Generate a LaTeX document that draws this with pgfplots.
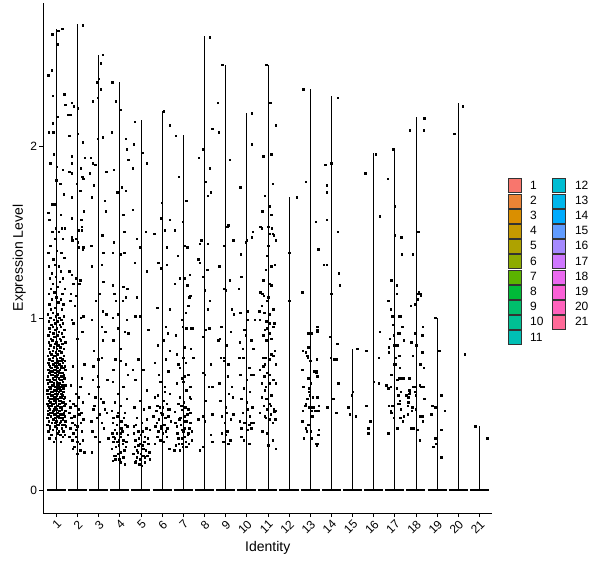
\documentclass[border=0pt]{standalone}
\usepackage{fontspec}
\setmainfont{Liberation Sans}
\usepackage{pgfplots}
\pgfplotsset{compat=1.18}

\definecolor{c1}{HTML}{F8766D}
\definecolor{c2}{HTML}{EB8335}
\definecolor{c3}{HTML}{DA8F00}
\definecolor{c4}{HTML}{C59900}
\definecolor{c5}{HTML}{AEA200}
\definecolor{c6}{HTML}{8DAB00}
\definecolor{c7}{HTML}{5BB300}
\definecolor{c8}{HTML}{00BA38}
\definecolor{c9}{HTML}{00BE6C}
\definecolor{c10}{HTML}{00C094}
\definecolor{c11}{HTML}{00BFB4}
\definecolor{c12}{HTML}{00BDD2}
\definecolor{c13}{HTML}{00B6EB}
\definecolor{c14}{HTML}{00ABFD}
\definecolor{c15}{HTML}{619CFF}
\definecolor{c16}{HTML}{A58AFF}
\definecolor{c17}{HTML}{CF78FF}
\definecolor{c18}{HTML}{EB69F0}
\definecolor{c19}{HTML}{FB61D7}
\definecolor{c20}{HTML}{FF62BC}
\definecolor{c21}{HTML}{FF6A98}

\begin{document}
\begin{tikzpicture}
\begin{axis}[
  at={(0,0)}, anchor=south west,
  scale only axis, width=449bp, height=510bp,
  xmin=0.386, xmax=21.61, ymin=-0.134, ymax=2.83,
  axis lines=left, axis line style={-, black, line width=0.6bp},
  xtick={1,...,21}, ytick={0,1,2},
  tick align=outside, major tick length=4bp,
  tick style={black, line width=0.6bp},
  /pgf/number format/assume math mode=true,
  tick label style={font=\fontsize{12bp}{14bp}\selectfont},
  xticklabel style={rotate=45, anchor=north east, inner sep=1.5bp},
  yticklabel style={inner sep=2bp},
  xlabel={Identity}, ylabel={Expression Level},
  label style={font=\fontsize{14bp}{16bp}\selectfont},
  xlabel style={at={(axis description cs:0.5,-0.0686)}, anchor=center},
  ylabel style={at={(axis description cs:-0.0535,0.5)}, anchor=center},
  unbounded coords=jump,
  legend columns=2,
  legend cell align=left,
  legend image code/.code={\draw[#1] (0bp,-7bp) rectangle (13bp,7bp);},
  legend style={at={(1,0.5)}, anchor=west, xshift=15bp, yshift=-3.7bp,
    draw=none, fill=none, inner sep=0pt,
    font=\fontsize{12bp}{14bp}\selectfont,
    row sep=0.6bp, column sep=7bp},
  every axis plot/.append style={forget plot},
  dots/.style={only marks, mark=square*, mark size=0.75bp, black}
]

% violins: a line up to the largest value, a bar at zero
\addplot[black, line width=0.6bp] coordinates {
 (1,0)(1,2.68)(1,nan) (2,0)(2,2.71)(2,nan) (3,0)(3,2.53)(3,nan)
 (4,0)(4,2.37)(4,nan) (5,0)(5,2.15)(5,nan) (6,0)(6,2.20)(6,nan)
 (7,0)(7,2.06)(7,nan) (8,0)(8,2.64)(8,nan) (9,0)(9,2.47)(9,nan)
 (10,0)(10,2.19)(10,nan) (11,0)(11,2.47)(11,nan) (12,0)(12,1.70)(12,nan)
 (13,0)(13,2.33)(13,nan) (14,0)(14,2.29)(14,nan) (15,0)(15,0.82)(15,nan)
 (16,0)(16,1.96)(16,nan) (17,0)(17,1.99)(17,nan) (18,0)(18,2.17)(18,nan)
 (19,0)(19,1.00)(19,nan) (20,0)(20,2.25)(20,nan) (21,0)(21,0.37)
};
\addplot[black, line width=2bp] coordinates {
 (0.55,0)(1.45,0)(1,nan) (1.55,0)(2.45,0)(2,nan) (2.55,0)(3.45,0)(3,nan)
 (3.55,0)(4.45,0)(4,nan) (4.55,0)(5.45,0)(5,nan) (5.55,0)(6.45,0)(6,nan)
 (6.55,0)(7.45,0)(7,nan) (7.55,0)(8.45,0)(8,nan) (8.55,0)(9.45,0)(9,nan)
 (9.55,0)(10.45,0)(10,nan) (10.55,0)(11.45,0)(11,nan) (11.55,0)(12.45,0)(12,nan)
 (12.55,0)(13.45,0)(13,nan) (13.55,0)(14.45,0)(14,nan) (14.55,0)(15.45,0)(15,nan)
 (15.55,0)(16.45,0)(16,nan) (16.55,0)(17.45,0)(17,nan) (17.55,0)(18.45,0)(18,nan)
 (18.55,0)(19.45,0)(19,nan) (19.55,0)(20.45,0)(20,nan) (20.55,0)(21.45,0)
};

% cells, identity 1
\addplot[dots] coordinates {
 (0.88,.28)(1.21,.28)(0.66,.30)(0.97,.30)(1.30,.31)
 (0.75,.32)(1.05,.33)(1.18,.32)(1.40,.32)(0.61,.34)(0.83,.35)(1.12,.34)(1.33,.34)
 (0.70,.36)(0.92,.37)(1.01,.36)(1.25,.36)(1.44,.37)(0.58,.38)(0.79,.39)(1.08,.38)(1.17,.39)(1.37,.38)
 (0.64,.40)(0.87,.41)(0.99,.40)(1.22,.40)(1.31,.41)(1.42,.40)(0.56,.42)(0.73,.43)(0.95,.42)(1.10,.43)(1.28,.42)(1.39,.43)
 (0.62,.44)(0.81,.45)(0.90,.44)(1.04,.45)(1.19,.44)(1.35,.45)(0.59,.46)(0.69,.47)(0.85,.46)(1.00,.47)(1.14,.46)(1.26,.47)(1.43,.46)
 (0.65,.48)(0.77,.49)(0.93,.48)(1.07,.49)(1.23,.48)(1.38,.49)(0.57,.50)(0.72,.51)(0.86,.50)(0.98,.51)(1.13,.50)(1.29,.51)(1.41,.50)
 (0.63,.52)(0.80,.53)(0.91,.52)(1.05,.53)(1.20,.52)(1.34,.53)(0.60,.54)(0.74,.55)(0.89,.54)(1.02,.55)(1.16,.54)(1.27,.55)(1.40,.54)
 (0.67,.56)(0.84,.57)(0.96,.56)(1.11,.57)(1.24,.56)(1.36,.57)(0.58,.58)(0.71,.59)(0.88,.58)(1.03,.59)(1.19,.58)(1.32,.59)
 (0.64,.60)(0.79,.61)(0.94,.60)(1.09,.61)(1.22,.60)(1.42,.61)(0.60,.62)(0.76,.63)(0.87,.62)(1.01,.63)(1.15,.62)(1.30,.63)
 (0.68,.64)(0.83,.65)(0.97,.64)(1.12,.65)(1.26,.64)(1.38,.65)(0.59,.66)(0.73,.67)(0.92,.66)(1.06,.67)(1.21,.66)(1.35,.67)
 (0.66,.68)(0.81,.69)(0.95,.68)(1.10,.69)(1.28,.68)(0.62,.70)(0.77,.71)(0.90,.70)(1.04,.71)(1.17,.70)(1.33,.71)(1.43,.70)
 (0.70,.72)(0.86,.73)(0.99,.72)(1.14,.73)(1.24,.72)(0.61,.74)(0.78,.75)(0.93,.74)(1.08,.75)(1.31,.74)(1.40,.75)
 (0.67,.76)(0.84,.77)(1.02,.76)(1.19,.77)(1.27,.76)(0.60,.78)(0.75,.79)(0.91,.78)(1.06,.79)(1.36,.78)
 (0.69,.80)(0.82,.81)(0.97,.80)(1.13,.81)(1.23,.80)(0.63,.82)(0.88,.83)(1.03,.82)(1.18,.83)(1.34,.82)
 (0.72,.84)(0.94,.85)(1.09,.84)(1.29,.85)(0.65,.86)(0.80,.87)(1.00,.86)(1.21,.87)(1.41,.86)
 (0.74,.88)(0.90,.89)(1.15,.88)(1.32,.89)(0.62,.90)(0.85,.91)(1.05,.90)(1.25,.91)
 (0.70,.92)(0.96,.93)(1.12,.92)(1.38,.93)(0.66,.94)(0.83,.95)(1.01,.94)(1.20,.95)
 (0.76,.96)(0.92,.97)(1.16,.96)(1.30,.97)(0.64,.98)(0.87,.99)(1.07,.98)(1.23,.99)
 (0.71,1.00)(0.98,1.01)(1.14,1.00)(1.35,1.01)(0.60,1.02)(0.82,1.03)(1.04,1.02)
 (0.73,1.05)(0.95,1.06)(1.26,1.05)(0.67,1.08)(1.10,1.09)(1.33,1.08)(0.78,1.11)(0.99,1.12)(1.20,1.11)
 (0.63,1.14)(0.89,1.15)(1.29,1.14)(0.74,1.17)(1.06,1.18)(1.39,1.17)(0.84,1.20)(1.15,1.21)
 (0.68,1.23)(0.97,1.24)(1.31,1.23)(0.79,1.26)(1.22,1.27)(0.64,1.30)(0.93,1.31)(1.12,1.30)
 (0.86,1.34)(1.37,1.35)(0.62,1.38)(1.03,1.39)(1.24,1.38)
 (0.68,.37)(0.95,.39)(1.27,.38)(0.82,.41)(1.14,.42)(1.03,.43)(0.71,.45)(1.32,.44)(0.88,.47)(1.18,.48)
 (0.61,.49)(1.02,.49)(0.79,.50)(1.36,.51)(0.94,.53)(1.11,.52)(0.69,.53)(1.25,.54)(0.83,.55)(1.06,.56)
 (0.56,.56)(1.31,.57)(0.76,.57)(0.99,.58)(1.14,.59)(0.66,.60)(0.86,.61)(1.27,.61)(1.04,.62)(0.71,.63)
 (0.90,.64)(1.19,.64)(0.57,.64)(1.33,.66)(0.80,.67)(1.00,.66)(1.14,.68)(0.70,.69)(0.87,.70)(1.21,.71)
 (0.95,.72)(1.39,.72)(0.65,.73)(1.05,.74)(0.82,.75)(1.23,.75)
 (0.72,1.42)(0.95,1.46)(1.31,1.46)(0.80,1.50)(1.12,1.50)(0.98,1.52)(1.25,1.52)(1.40,1.52)(0.66,1.57)(0.61,1.61)
 (1.20,1.60)(0.78,1.66)(0.91,1.66)(1.35,1.72)(1.18,1.78)(0.99,1.80)(1.30,1.86)(1.02,1.88)(0.71,1.90)(0.88,1.95)
 (0.65,2.08)(0.86,2.08)(0.82,2.13)(1.04,2.17)(1.41,2.24)(0.84,2.29)(1.37,2.30)(0.62,2.41)(0.78,2.44)(1.05,2.59)
 (0.81,2.65)(1.09,2.67)(1.27,2.68)
};
% identity 2
\addplot[dots] coordinates {
 (2.24,2.70)(1.73,2.25)(1.82,2.23)(2.01,2.22)(1.54,2.18)(1.65,2.18)(1.60,2.06)(2.01,2.07)(2.24,2.02)(1.73,1.94)
 (1.73,1.90)(2.35,1.93)(1.60,1.85)(1.74,1.84)(2.15,1.87)(2.23,1.82)(2.27,1.81)(1.96,1.78)(1.74,1.70)(2.12,1.74)
 (2.29,1.62)(1.74,1.58)(2.17,1.57)(2.20,1.53)(2.20,1.51)(2.06,1.51)(2.01,1.44)(1.74,1.47)(1.76,1.45)(1.91,1.46)
 (2.06,1.41)(2.24,1.40)(2.27,1.41)
 (1.74,1.25)(1.61,1.27)(1.80,1.20)(1.93,1.23)(2.12,1.22)(2.09,1.20)(1.69,1.14)(1.91,1.13)(1.65,1.10)(1.87,1.07)
 (1.74,0.99)(1.80,0.97)(2.28,1.01)(2.15,1.00)(2.23,0.92)(1.99,0.88)(1.77,0.72)(2.32,0.73)(2.20,0.65)(1.69,0.61)
 (2.12,0.60)(1.93,0.56)(1.80,0.50)(2.04,0.54)(1.65,0.48)(2.25,0.51)(1.61,0.45)(1.85,0.43)(2.09,0.44)(2.15,0.39)
 (1.76,0.39)(1.93,0.35)(2.20,0.34)(1.61,0.31)(1.99,0.28)(1.85,0.25)(1.77,0.24)(2.12,0.23)(1.99,0.21)(2.32,0.22)
 (1.70,0.42)(1.88,0.38)(2.05,0.47)(1.66,0.36)(2.26,0.29)(1.95,0.31)(2.18,0.45)(1.80,0.33)(2.10,0.27)(1.63,0.52)
 (1.90,0.49)(2.28,0.41)(1.75,0.29)(2.00,0.37)
};
% identity 3
\addplot[dots] coordinates {
 (3.20,2.53)(3.09,2.48)(3.00,2.39)(2.91,2.37)(3.09,2.33)(2.95,2.28)(2.73,2.26)(3.19,2.05)(2.95,2.04)(2.62,1.93)
 (2.72,1.90)(2.83,1.89)(2.59,1.84)(3.35,1.85)(2.77,1.77)(2.67,1.70)(3.30,1.68)(3.33,1.62)(3.17,1.48)(2.64,1.42)
 (2.67,1.30)(3.14,1.31)(3.22,1.38)(3.22,1.21)(3.03,1.14)(2.87,1.10)(3.19,1.04)(3.35,1.02)(2.67,0.99)(3.14,0.95)
 (3.31,0.92)(3.19,0.87)(2.78,0.81)(2.98,0.76)(3.14,0.77)(2.75,0.72)(2.72,0.64)(3.41,0.64)(2.98,0.60)(2.54,0.56)
 (2.83,0.54)(3.22,0.51)(2.75,0.47)(3.02,0.44)(3.38,0.45)(2.64,0.40)(3.14,0.39)(2.83,0.31)(3.46,0.30)(2.67,0.22)
 (2.90,0.42)(3.25,0.36)(2.80,0.49)(3.10,0.53)(2.70,0.34)(3.30,0.47)(3.05,0.28)(2.95,0.66)
};
% identity 4
\addplot[dots] coordinates {
 (3.65,2.37)(3.82,2.26)(4.04,2.21)(3.61,2.08)(3.72,1.86)(4.10,1.76)(4.29,1.74)(3.87,1.73)(4.16,1.60)(4.20,1.50)
 (3.72,1.44)(3.66,1.38)(4.29,2.04)(4.34,1.98)(4.39,1.92)
 (4.01,1.37)(4.21,1.38)(4.16,1.18)(3.66,1.19)(4.35,1.17)(3.74,1.14)(4.29,1.12)(3.82,1.10)(4.13,1.10)(3.93,1.02)
 (3.66,1.00)(4.32,0.99)(3.93,0.94)(4.24,0.92)(4.40,0.91)(3.69,0.87)(4.05,0.82)(3.79,0.76)(4.04,0.75)(4.28,0.73)
 (3.70,0.70)(4.37,0.67)(3.66,0.63)(4.16,0.60)(3.93,0.56)(4.32,0.53)(3.77,0.51)(4.05,0.49)(3.61,0.46)(4.24,0.45)
 (3.88,0.43)(3.66,0.39)(4.10,0.40)(4.35,0.37)(3.77,0.35)(4.01,0.33)(3.69,0.31)(4.16,0.29)(3.88,0.28)(4.27,0.25)
 (3.61,0.24)(4.01,0.22)(3.82,0.20)(4.16,0.19)(3.66,0.17)(4.01,0.16)(4.24,0.15)
 (3.75,0.30)(3.95,0.26)(4.12,0.34)(3.85,0.38)(4.30,0.28)(3.70,0.42)(4.05,0.31)(3.90,0.21)(4.20,0.23)(3.80,0.25)
 (4.00,0.40)(3.64,0.33)(4.38,0.32)(3.98,0.18)(3.72,0.20)(4.14,0.27)(3.86,0.33)(4.26,0.38)(3.92,0.45)(4.08,0.36)
 (3.68,0.28)(3.79,0.18)(4.18,0.42)(3.96,0.29)
};
% identity 5
\addplot[dots] coordinates {
 (4.70,2.14)(4.67,2.01)(4.62,1.87)(5.08,1.96)(5.28,1.90)(4.62,1.63)(4.79,1.46)(5.22,1.50)(4.94,1.41)
 (4.70,1.32)(5.27,1.27)(4.79,1.12)(4.72,1.01)(4.95,1.01)(5.35,0.93)(4.87,0.76)(4.61,0.70)(5.11,0.70)(4.72,0.64)
 (5.27,0.58)(4.95,0.52)(4.68,0.48)(5.14,0.47)(5.39,0.48)(4.79,0.42)(5.27,0.41)(5.03,0.39)(4.67,0.37)(4.87,0.34)
 (5.42,0.35)(5.19,0.31)(4.72,0.29)(4.95,0.27)(5.35,0.27)(4.79,0.23)(5.11,0.24)(4.64,0.21)(5.30,0.20)(4.95,0.18)
 (4.76,0.17)(5.19,0.16)(5.42,0.18)(5.03,0.14)
 (4.85,0.22)(5.05,0.26)(4.70,0.25)(5.22,0.23)(4.90,0.30)(5.10,0.20)(4.80,0.19)(5.00,0.32)(5.32,0.30)(4.66,0.33)
 (5.15,0.28)(4.92,0.15)(5.25,0.36)(4.75,0.38)(5.08,0.34)(4.88,0.26)(5.38,0.22)(4.98,0.21)(5.18,0.19)(4.73,0.16)
};
% identity 6
\addplot[dots] coordinates {
 (6.08,2.20)(6.35,2.12)(5.99,1.67)(5.94,1.58)(6.35,1.57)(6.13,1.51)(6.21,1.41)(5.63,1.49)
 (5.82,1.32)(5.93,1.29)(6.21,1.31)(6.37,1.05)(5.77,1.06)(6.18,0.95)(6.26,0.91)(5.79,0.84)(6.08,0.87)(6.37,0.81)
 (5.66,0.74)(6.18,0.76)(5.83,0.67)(6.29,0.69)(5.90,0.63)(6.13,0.60)(5.66,0.54)(6.37,0.56)(5.77,0.49)(6.02,0.48)
 (6.26,0.47)(5.58,0.43)(5.93,0.45)(6.15,0.42)(5.74,0.39)(6.40,0.40)(5.97,0.37)(5.82,0.34)(6.21,0.31)(6.05,0.28)
 (5.66,0.27)(6.34,0.24)
 (5.85,0.41)(6.00,0.44)(6.10,0.38)(5.72,0.46)(6.22,0.50)(5.95,0.36)(6.30,0.43)(5.78,0.31)(6.05,0.52)(5.88,0.48)
 (6.16,0.34)(5.68,0.37)(6.35,0.47)(5.92,0.29)(6.12,0.57)(5.80,0.55)(6.25,0.36)(6.02,0.33)
};
% identity 7
\addplot[dots] coordinates {
 (6.64,2.06)(6.79,1.82)(7.15,1.68)(6.97,1.56)(6.59,1.51)(7.08,1.42)(7.19,1.41)
 (6.75,1.36)(6.60,1.20)(6.84,1.23)(7.08,1.23)(7.31,1.25)(7.19,1.19)(7.34,1.13)(7.28,1.12)(7.23,1.07)(7.12,1.03)
 (6.92,0.99)(6.97,0.95)(7.15,0.94)(7.36,0.94)(7.45,0.94)(6.65,0.90)(7.08,0.83)(6.68,0.79)(7.36,0.82)(7.00,0.77)
 (6.76,0.73)(6.84,0.71)(7.12,0.74)(7.48,0.77)(7.08,0.66)(7.23,0.67)(6.92,0.65)(6.68,0.62)(7.00,0.63)(7.34,0.60)
 (7.15,0.58)(6.84,0.54)(7.31,0.54)(7.36,0.53)(7.03,0.51)(6.76,0.50)(6.60,0.455)(6.92,0.465)(7.23,0.47)(7.08,0.43)
 (6.81,0.41)(7.15,0.40)(7.34,0.39)(6.68,0.37)(6.92,0.35)(7.00,0.34)(7.23,0.33)(7.08,0.31)(6.76,0.30)(7.39,0.29)
 (6.65,0.26)(6.92,0.27)(7.15,0.25)(6.84,0.23)(6.57,0.23)
 (6.88,0.38)(7.05,0.36)(7.20,0.32)(6.95,0.30)(7.12,0.28)(6.72,0.33)(7.28,0.36)(6.85,0.42)(7.02,0.40)(7.18,0.44)
 (6.78,0.27)(7.40,0.34)(6.98,0.25)(7.25,0.27)(6.62,0.39)(7.10,0.48)(6.90,0.49)(7.32,0.45)
};
% identity 8
\addplot[dots] coordinates {
 (8.26,2.63)(7.91,1.98)(7.72,1.93)(8.26,1.87)(8.04,1.79)(8.29,1.73)(8.15,1.71)(7.86,1.45)(7.78,1.43)(8.15,1.43)
 (7.71,1.34)(7.78,1.32)(7.91,1.24)(8.13,1.28)(8.02,1.16)(8.26,1.10)(8.15,1.05)(8.23,0.94)(8.07,0.93)(7.91,0.89)
 (8.30,0.73)(7.94,0.68)(8.02,0.67)(8.21,0.60)(8.37,0.60)(8.05,0.52)(7.91,0.43)(8.38,0.44)(7.71,0.41)(8.02,0.40)
 (8.29,0.32)(8.38,0.28)(7.91,0.25)(7.78,0.23)
};
% identity 9
\addplot[dots] coordinates {
 (8.85,2.47)(8.62,2.25)(8.38,2.10)(8.68,2.08)(9.20,1.92)(9.07,1.53)(9.12,1.54)(8.92,1.42)(9.37,1.45)
 (9.20,1.22)(8.92,1.17)(9.01,1.16)(8.73,0.88)(8.65,0.87)(9.25,0.92)(9.39,1.02)(9.04,0.84)(8.93,0.77)(8.76,0.77)
 (8.92,0.75)(9.12,0.73)(8.70,0.62)(9.28,0.60)(9.15,0.56)(9.33,0.54)(9.01,0.48)(9.36,0.44)(8.81,0.43)(9.25,0.41)
 (8.96,0.39)(9.07,0.34)(8.81,0.33)(9.01,0.32)(9.23,0.29)(9.12,0.27)(8.89,0.28)
 (8.70,1.30)(9.30,1.05)(8.80,0.95)(9.10,0.66)(8.75,0.52)(9.05,0.45)
};
% identity 10
\addplot[dots] coordinates {
 (10.24,2.19)(10.24,2.01)(9.70,1.76)(10.29,1.50)(10.24,1.47)(10.00,1.45)(9.95,1.44)(9.72,1.37)
 (9.75,1.24)(9.63,1.17)(10.02,1.04)(9.70,1.03)(10.05,0.99)(9.88,0.93)(9.96,0.90)(10.38,0.99)(10.22,0.87)(9.67,0.86)
 (9.80,0.82)(10.30,0.82)(9.64,0.77)(9.83,0.77)(10.11,0.71)(10.18,0.67)(10.30,0.67)(9.70,0.67)(9.99,0.64)(9.86,0.59)
 (10.14,0.57)(9.75,0.53)(9.99,0.51)(10.27,0.48)(10.02,0.47)(9.80,0.45)(10.14,0.43)(9.67,0.40)(9.86,0.39)(9.96,0.39)
 (10.11,0.38)(10.22,0.39)(10.30,0.39)(9.75,0.36)(10.02,0.35)(10.22,0.36)(9.75,0.31)(9.86,0.29)(10.11,0.27)
};
% identity 11
\addplot[dots] coordinates {
 (10.93,2.47)(11.12,2.25)(11.36,2.12)(10.79,1.94)(11.17,1.95)(11.22,1.78)(10.85,1.71)(11.06,1.65)(10.74,1.62)(11.17,1.60)
 (10.65,1.53)(10.70,1.52)(11.01,1.53)(11.19,1.52)(11.06,1.49)(11.24,1.49)(11.28,1.48)(11.36,1.45)(11.01,1.42)
 (10.96,1.36)(10.90,1.28)(11.17,1.30)(11.33,1.31)(11.09,1.20)(11.17,1.19)(10.77,1.22)(10.65,1.15)(10.73,1.14)(10.81,1.13)
 (11.01,1.12)(10.96,1.10)(10.70,1.07)(10.59,1.04)(10.82,1.03)(11.09,1.02)(11.25,1.05)(10.93,0.98)(10.62,0.99)(11.06,0.97)
 (10.98,0.94)(10.85,0.93)(10.77,0.90)(11.09,0.91)(11.29,0.97)(11.25,0.95)(11.17,0.88)(10.93,0.87)(11.33,0.81)(11.17,0.79)
 (11.25,0.78)(10.90,0.77)(10.77,0.77)(11.06,0.76)(11.37,0.73)(10.85,0.73)(10.77,0.72)(10.62,0.70)(10.96,0.68)(11.09,0.67)
 (10.82,0.66)(11.25,0.64)(10.70,0.62)(11.09,0.62)(11.37,0.62)(10.90,0.60)(10.85,0.58)(11.17,0.55)(10.70,0.54)(10.93,0.53)
 (11.09,0.50)(11.14,0.49)(10.81,0.49)(11.28,0.47)(10.96,0.47)(10.62,0.45)(11.14,0.44)(10.85,0.43)(11.37,0.46)(11.29,0.455)
 (10.90,0.42)(11.09,0.41)(11.34,0.41)(11.22,0.39)(10.74,0.34)(10.98,0.33)(11.22,0.29)(11.37,0.24)(11.01,0.26)
};
% identity 12
\addplot[dots] coordinates {(12.36,1.70)(12.02,1.38)(12.00,1.10)};
% identity 13
\addplot[dots] coordinates {
 (12.68,2.33)(12.79,1.79)(13.26,1.56)(13.39,1.40)
 (12.63,1.15)(13.34,0.95)(13.34,0.93)(13.34,0.92)(12.90,0.91)(13.05,0.91)(12.65,0.81)(12.80,0.80)(12.85,0.78)(12.88,0.77)
 (12.90,0.83)(13.00,0.75)(13.30,0.76)(12.63,0.70)(13.20,0.69)(13.28,0.69)(13.28,0.68)(12.90,0.65)(13.30,0.66)(13.36,0.66)
 (12.66,0.60)(12.95,0.59)(13.02,0.62)(12.93,0.57)(12.97,0.55)(13.12,0.54)(13.33,0.54)(12.85,0.53)(12.80,0.50)(12.76,0.49)
 (12.94,0.48)(13.03,0.48)(13.40,0.49)(13.15,0.48)(13.25,0.46)(12.64,0.46)(13.10,0.43)(13.05,0.46)(13.38,0.46)(12.63,0.40)
 (12.90,0.38)(12.80,0.36)(12.84,0.34)(13.02,0.34)(13.40,0.35)(13.37,0.32)(12.70,0.30)(13.05,0.30)(13.34,0.27)(13.30,0.26)
 (13.27,0.27)
};
% identity 14
\addplot[dots] coordinates {
 (14.30,2.28)(13.72,1.89)(14.00,1.90)(13.78,1.77)(13.78,1.73)(13.78,1.57)(14.30,1.50)(13.64,1.31)(13.78,1.31)(14.35,1.26)
 (14.40,1.19)(14.00,1.14)(13.93,0.89)(14.27,0.85)(13.96,0.77)(14.11,0.76)(14.24,0.76)(14.33,0.62)(14.08,0.53)(13.81,0.48)
 (14.24,0.45)
};
% identity 15
\addplot[dots] coordinates {(15.22,0.82)(15.00,0.57)(14.96,0.55)(14.80,0.48)(14.86,0.44)(15.15,0.43)};
% identity 16
\addplot[dots] coordinates {
 (16.09,1.95)(15.60,1.84)(16.28,1.59)(15.66,0.81)(15.64,0.49)(15.84,0.40)(15.75,0.36)(15.75,0.33)(16.29,0.92)(16.25,0.77)
 (16.00,0.63)(16.24,0.62)
};
% identity 17
\addplot[dots] coordinates {
 (16.90,1.98)(16.66,1.81)(17.00,1.65)(17.00,1.48)(17.30,1.47)(17.33,1.37)
 (16.83,1.22)(17.10,1.19)(17.10,1.14)(16.69,1.10)(16.80,1.05)(16.88,1.01)(17.20,1.01)(17.26,1.01)(16.93,0.96)(17.35,0.95)
 (17.15,0.91)(17.20,0.91)(16.76,0.88)(16.96,0.90)(17.42,0.87)(17.12,0.84)(16.94,0.84)(17.04,0.84)(16.71,0.83)(16.71,0.80)
 (17.20,0.78)(17.04,0.77)(16.98,0.73)(17.01,0.73)(17.24,0.71)(17.42,0.65)(17.32,0.65)(16.82,0.67)(17.20,0.65)(17.12,0.64)
 (16.60,0.61)(16.69,0.59)(16.80,0.60)(17.09,0.59)(17.28,0.57)(17.16,0.55)(17.23,0.52)(16.72,0.49)(16.88,0.49)(16.80,0.46)
 (16.83,0.45)(17.13,0.50)(17.20,0.50)(17.28,0.47)(17.26,0.42)(16.68,0.33)(17.12,0.36)(17.37,0.40)(16.94,0.42)(17.43,0.43)
};
% identity 18
\addplot[dots] coordinates {
 (18.40,2.16)(17.70,2.09)(18.36,2.09)(18.10,1.50)(17.84,1.37)
 (18.14,1.15)(18.08,1.14)(18.19,1.14)(18.22,1.13)(18.08,1.11)(17.94,1.08)(17.75,1.07)(18.33,0.95)(17.97,0.91)(18.30,0.90)
 (17.78,0.86)(18.02,0.84)(17.84,0.78)(18.30,0.80)(18.20,0.73)(18.36,0.71)(17.67,0.65)(18.17,0.61)(18.25,0.60)(18.36,0.60)
 (17.67,0.58)(17.67,0.56)(17.86,0.60)(17.92,0.60)(17.94,0.57)(17.54,0.55)(17.98,0.55)(18.36,0.53)(18.39,0.53)(17.64,0.51)
 (17.83,0.48)(17.98,0.47)(17.79,0.46)(17.61,0.44)(18.20,0.43)(18.30,0.43)(17.76,0.36)(17.86,0.36)(18.08,0.35)(18.33,0.40)
 (18.17,0.29)(17.65,0.58)(17.70,0.57)(17.64,0.54)(17.62,0.49)
};
% identity 19
\addplot[dots] coordinates {
 (18.90,1.00)(19.10,0.81)(19.20,0.55)(18.77,0.49)(18.90,0.48)(19.35,0.46)(18.72,0.44)(19.20,0.35)(18.90,0.30)(18.96,0.27)
 (18.82,0.25)(19.20,0.19)
};
% identity 20
\addplot[dots] coordinates {(20.20,2.23)(19.80,2.07)(20.30,0.79)};
% identity 21
\addplot[dots] coordinates {(20.80,0.37)(21.38,0.30)};

% legend, filled row by row so that it reads down two columns
\addlegendimage{fill=c1, draw=black!80, line width=0.6bp}\addlegendentry{1}
\addlegendimage{fill=c12, draw=black!80, line width=0.6bp}\addlegendentry{12}
\addlegendimage{fill=c2, draw=black!80, line width=0.6bp}\addlegendentry{2}
\addlegendimage{fill=c13, draw=black!80, line width=0.6bp}\addlegendentry{13}
\addlegendimage{fill=c3, draw=black!80, line width=0.6bp}\addlegendentry{3}
\addlegendimage{fill=c14, draw=black!80, line width=0.6bp}\addlegendentry{14}
\addlegendimage{fill=c4, draw=black!80, line width=0.6bp}\addlegendentry{4}
\addlegendimage{fill=c15, draw=black!80, line width=0.6bp}\addlegendentry{15}
\addlegendimage{fill=c5, draw=black!80, line width=0.6bp}\addlegendentry{5}
\addlegendimage{fill=c16, draw=black!80, line width=0.6bp}\addlegendentry{16}
\addlegendimage{fill=c6, draw=black!80, line width=0.6bp}\addlegendentry{6}
\addlegendimage{fill=c17, draw=black!80, line width=0.6bp}\addlegendentry{17}
\addlegendimage{fill=c7, draw=black!80, line width=0.6bp}\addlegendentry{7}
\addlegendimage{fill=c18, draw=black!80, line width=0.6bp}\addlegendentry{18}
\addlegendimage{fill=c8, draw=black!80, line width=0.6bp}\addlegendentry{8}
\addlegendimage{fill=c19, draw=black!80, line width=0.6bp}\addlegendentry{19}
\addlegendimage{fill=c9, draw=black!80, line width=0.6bp}\addlegendentry{9}
\addlegendimage{fill=c20, draw=black!80, line width=0.6bp}\addlegendentry{20}
\addlegendimage{fill=c10, draw=black!80, line width=0.6bp}\addlegendentry{10}
\addlegendimage{fill=c21, draw=black!80, line width=0.6bp}\addlegendentry{21}
\addlegendimage{fill=c11, draw=black!80, line width=0.6bp}\addlegendentry{11}
\end{axis}
\path (-43.3bp,-55bp) rectangle (556.7bp,513bp);
\end{tikzpicture}
\end{document}
